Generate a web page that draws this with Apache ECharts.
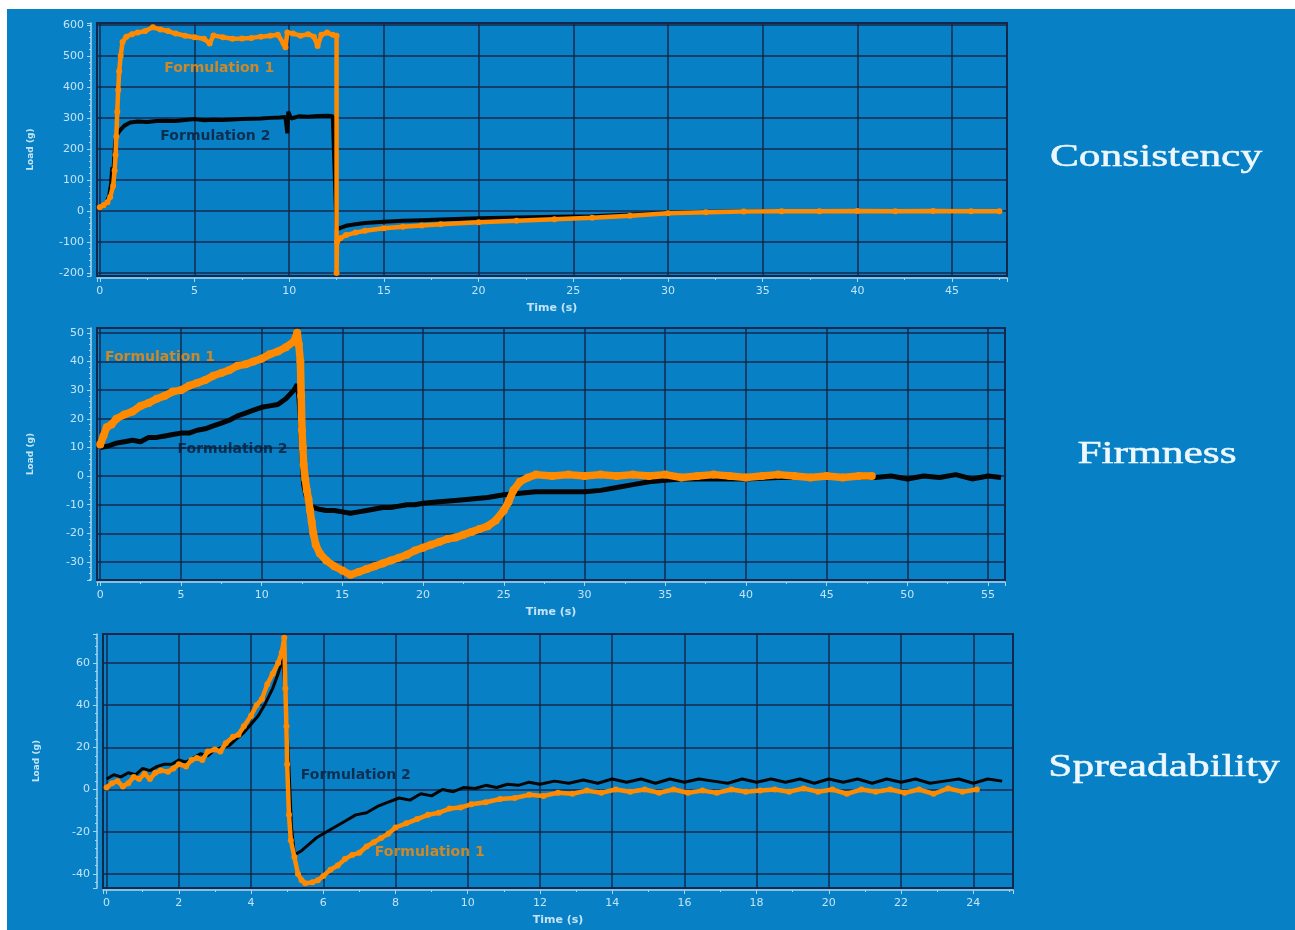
<!DOCTYPE html>
<html><head><meta charset="utf-8">
<script src="https://cdn.jsdelivr.net/npm/echarts@6/dist/echarts.min.js"></script>
<style>
html,body{margin:0;padding:0;background:#fff;}
#wrap{position:relative;width:1295px;height:930px;overflow:hidden;background:#fff;}
#blue{position:absolute;left:7px;top:9px;right:0;bottom:0;background:#0880c6;}
#chart{position:absolute;left:0;top:0;width:1295px;height:930px;}
</style></head><body>
<div id="wrap"><div id="blue"></div><div id="chart"></div></div>
<script>
// ---------- DATA (time s, load g) ----------
const panelTitles = ['Consistency', 'Firmness', 'Spreadability'];
const seriesNames = ['Formulation 1', 'Formulation 2'];

const consF1 = [[0,12],[0.2,18],[0.4,28],[0.55,45],[0.7,80],[0.78,130],[0.83,180],[0.87,240],[0.92,320],[0.97,390],[1.02,450],[1.1,500],[1.2,545],[1.4,562],[1.7,570],[2.0,575],[2.4,580],[2.8,592],[3.2,585],[3.6,580],[4.0,572],[4.5,565],[5.0,560],[5.5,555],[5.8,540],[6.0,566],[6.5,560],[7.0,555],[7.5,556],[8.0,558],[8.5,562],[9.0,565],[9.4,568],[9.7,540],[9.8,528],[9.9,575],[10.2,572],[10.6,565],[11.0,570],[11.3,562],[11.5,532],[11.7,568],[12.0,575],[12.3,568],[12.5,565],[12.5,-200],[12.52,-100],[12.7,-88],[13,-78],[13.5,-70],[14,-64],[15,-56],[16,-51],[17,-47],[18,-43],[20,-37],[22,-32],[24,-27],[26,-22],[28,-16],[30,-8],[32,-4],[34,-2],[36,-1],[38,-1],[40,0],[42,-1],[44,0],[46,-1],[47.5,-1]];
const consF2 = [[0,10],[0.3,20],[0.5,50],[0.6,90],[0.65,140],[0.7,120],[0.75,160],[0.8,210],[0.85,235],[0.95,250],[1.1,262],[1.3,275],[1.6,285],[2.0,288],[2.5,287],[3.0,290],[3.5,291],[4.0,290],[4.5,293],[5.0,296],[5.5,292],[6.0,294],[6.5,293],[7.0,295],[7.5,296],[8.0,297],[8.5,298],[9.0,300],[9.5,301],[9.8,303],[9.9,250],[9.95,320],[10.1,298],[10.5,305],[11.0,304],[11.5,306],[12.0,307],[12.3,305],[12.5,-60],[12.7,-55],[13,-48],[13.5,-43],[14,-39],[15,-35],[16,-32],[17,-30],[18,-28],[20,-24],[22,-21],[24,-19],[26,-17],[28,-12],[30,-6],[32,-3],[34,-1],[36,0],[38,0],[40,0],[42,0],[44,0],[46,0],[47.3,0]];

const firmF1 = [[0,11],[0.2,14],[0.4,17],[0.7,18],[1,20],[1.5,21.5],[2,22.5],[2.5,24.5],[3,25.5],[3.5,27],[4,28],[4.5,29.5],[5,30],[5.5,31.5],[6,32.5],[6.5,33.5],[7,35],[7.5,36],[8,37],[8.5,38.5],[9,39],[9.5,40],[10,41],[10.5,42.5],[11,43.5],[11.5,45],[12,47],[12.2,50],[12.3,46],[12.4,40],[12.45,28],[12.5,16],[12.55,10],[12.6,4],[12.7,-1],[12.8,-5],[12.9,-8],[13.0,-12],[13.1,-16],[13.2,-20],[13.35,-24],[13.6,-27],[14,-29.5],[14.5,-31.5],[15,-33],[15.5,-34.5],[16,-33.5],[16.5,-32.5],[17,-31.5],[17.5,-30.5],[18,-29.5],[18.5,-28.5],[19,-27.5],[19.5,-26],[20,-25],[20.5,-24],[21,-23],[21.5,-22],[22,-21.5],[22.5,-20.5],[23,-19.5],[23.5,-18.5],[24,-17.5],[24.5,-15.5],[25,-12],[25.3,-9],[25.6,-5],[26,-2],[26.5,-0.5],[27,0.5],[28,0],[29,0.5],[30,0],[31,0.5],[32,0],[33,0.5],[34,0],[35,0.5],[36,-0.5],[37,0],[38,0.5],[39,0],[40,-0.5],[41,0],[42,0.5],[43,0],[44,-0.5],[45,0],[46,-0.5],[47,0],[47.8,0]];
const firmF2 = [[0,10],[0.5,10.5],[1,11.5],[1.5,12],[2,12.5],[2.5,12],[3,13.5],[3.5,13.5],[4,14],[4.5,14.5],[5,15],[5.5,15],[6,16],[6.5,16.5],[7,17.5],[7.5,18.5],[8,19.5],[8.5,21],[9,22],[9.5,23],[10,24],[10.5,24.5],[11,25],[11.5,27],[12,30],[12.2,32],[12.3,28],[12.4,20],[12.5,6],[12.6,-3],[12.8,-8],[13,-10.5],[13.5,-11.5],[14,-12],[14.5,-12],[15,-12.5],[15.5,-13],[16,-12.5],[16.5,-12],[17,-11.5],[17.5,-11],[18,-11],[18.5,-10.5],[19,-10],[19.5,-10],[20,-9.5],[21,-9],[22,-8.5],[23,-8],[24,-7.5],[25,-6.5],[26,-6],[27,-5.5],[28,-5.5],[29,-5.5],[30,-5.5],[31,-5],[32,-4],[33,-3],[34,-2],[35,-1.5],[36,-1],[38,-1],[40,-1],[42,-0.5],[44,-0.5],[46,-0.5],[48,-0.5],[49,0],[50,-1],[51,0],[52,-0.5],[53,0.5],[54,-1],[55,0],[55.8,-0.5]];

const spreadF1 = [[0,1],[0.15,3],[0.3,4],[0.45,1.5],[0.6,3],[0.75,6],[0.9,5],[1.05,7.5],[1.2,5],[1.35,8],[1.5,9],[1.7,8.5],[1.85,10],[2.0,12],[2.2,11],[2.35,14],[2.5,15],[2.65,14],[2.8,18],[3.0,19],[3.15,18],[3.3,22],[3.5,25],[3.65,26],[3.8,30],[4.0,35],[4.15,40],[4.3,43],[4.45,50],[4.6,55],[4.75,60],[4.85,65],[4.92,72],[4.95,48],[4.98,30],[5.0,12],[5.05,-12],[5.1,-24],[5.2,-32],[5.3,-40],[5.4,-43],[5.5,-44.5],[5.7,-44],[5.85,-43],[6.0,-41],[6.2,-38],[6.4,-36],[6.6,-33],[6.8,-31],[7.0,-30],[7.2,-27],[7.4,-25],[7.6,-23],[7.8,-21],[8.0,-18],[8.3,-16],[8.6,-14],[8.9,-12],[9.2,-11],[9.5,-9],[9.8,-8.5],[10.1,-7],[10.5,-6],[10.9,-4.5],[11.3,-4],[11.7,-2.5],[12.1,-3],[12.5,-1.5],[12.9,-2],[13.3,-0.5],[13.7,-1.5],[14.1,0],[14.5,-1],[14.9,0],[15.3,-1.5],[15.7,0],[16.1,-1.5],[16.5,-0.5],[16.9,-1.5],[17.3,0],[17.7,-1],[18.1,-0.5],[18.5,0],[18.9,-1],[19.3,0.5],[19.7,-1],[20.1,0],[20.5,-2],[20.9,0],[21.3,-1],[21.7,0],[22.1,-1.5],[22.5,0],[22.9,-2],[23.3,0.5],[23.7,-1],[24.1,0]];
const spreadF2 = [[0,5],[0.2,7],[0.4,6],[0.6,8],[0.8,7],[1.0,10],[1.2,9],[1.4,11],[1.6,12],[1.8,12],[2.0,14],[2.2,13],[2.4,15],[2.6,17],[2.8,16],[3.0,19],[3.2,20],[3.4,21],[3.6,24],[3.8,27],[4.0,31],[4.2,35],[4.4,41],[4.6,48],[4.75,55],[4.88,62],[4.95,45],[5.05,10],[5.12,-18],[5.2,-31],[5.4,-29],[5.6,-26],[5.8,-23],[6.0,-21],[6.3,-18],[6.6,-15],[6.9,-12],[7.2,-11],[7.5,-8],[7.8,-6],[8.1,-4],[8.4,-5],[8.7,-2],[9.0,-3],[9.3,0],[9.6,-1],[9.9,1],[10.2,0.5],[10.5,2],[10.8,1],[11.1,2.5],[11.4,2],[11.7,3.5],[12.0,2.5],[12.4,4],[12.8,3],[13.2,4.5],[13.6,3],[14.0,5],[14.4,3.5],[14.8,5],[15.2,3],[15.6,5],[16.0,3.5],[16.4,5],[16.8,4],[17.2,3],[17.6,5],[18.0,3.5],[18.4,5],[18.8,3.5],[19.2,5],[19.6,3],[20.0,5],[20.4,3.5],[20.8,5],[21.2,3],[21.6,5],[22.0,3.5],[22.4,5],[22.8,3],[23.2,4],[23.6,5],[24.0,3],[24.4,5],[24.8,4]];

// annotation anchors in data units: [time, load]
const notesF1 = [[6.3,461],[3.7,41.3],[8.95,-30]];
const notesF2 = [[6.1,239],[8.2,9.4],[6.9,6.7]];

// axis extents
const xMins = [-0.15,-0.2,-0.1], xMaxs = [47.9,56.05,25.1];
const yMins = [-210,-36.3,-46.7], yMaxs = [606,51.7,73.8];

// ---------- CHART ----------
const ORANGE = '#ff8a00', BLACK = '#050505';
const AX = '#a8d6ef', LBL = '#c4e4f6', GRIDC = '#14284c';
const grids = [
  {left:97, right:288, top:23, bottom:654},
  {left:97, right:290, top:328, bottom:350},
  {left:103, right:282, top:634, bottom:42}
];
const xSplit = [10,11,12], ySplit = [8,9,6];
const f1Data = [consF1, firmF1, spreadF1];
const f2Data = [consF2, firmF2, spreadF2];
const f1Width = [4.5, 7.5, 4.5], f2Width = [4, 5, 3];
const f1Sym = [6, 8, 6];
const titleY = [158, 455, 768], titleX = [1156, 1157, 1164];

const xAxis = [], yAxis = [], series = [];
for (let i = 0; i < 3; i++) {
  grids[i].show = true;
  grids[i].borderColor = GRIDC;
  grids[i].borderWidth = 2;
  grids[i].backgroundColor = 'transparent';
  xAxis.push({
    gridIndex:i, type:'value', min:xMins[i], max:xMaxs[i], splitNumber:xSplit[i],
    offset:2,
    axisLine:{show:true, onZero:false, lineStyle:{color:AX, width:1.5}},
    axisTick:{show:true, length:4, lineStyle:{color:AX}},
    minorTick:{show:true, splitNumber:2, length:2, lineStyle:{color:AX}},
    splitLine:{show:true, lineStyle:{color:GRIDC, width:1.5}},
    axisLabel:{color:LBL, fontSize:11, fontFamily:'DejaVu Sans', margin:8, showMinLabel:false, showMaxLabel:false},
    name:'Time (s)', nameLocation:'middle', nameGap:25,
    nameTextStyle:{color:LBL, fontWeight:'bold', fontSize:11, fontFamily:'DejaVu Sans'}
  });
  yAxis.push({
    gridIndex:i, type:'value', min:yMins[i], max:yMaxs[i], splitNumber:ySplit[i],
    offset:6,
    axisLine:{show:true, onZero:false, lineStyle:{color:AX, width:1.5}},
    axisTick:{show:true, length:4, lineStyle:{color:AX}},
    minorTick:{show:true, splitNumber:5, length:2, lineStyle:{color:AX}},
    splitLine:{show:true, lineStyle:{color:GRIDC, width:1.5}},
    axisLabel:{color:LBL, fontSize:11, fontFamily:'DejaVu Sans', margin:7, showMinLabel:false, showMaxLabel:false},
    name:'Load (g)', nameLocation:'middle', nameGap:56, nameRotate:90,
    nameTextStyle:{color:LBL, fontWeight:'bold', fontSize:9, fontFamily:'DejaVu Sans'}
  });
  series.push({
    type:'line', name:seriesNames[1], xAxisIndex:i, yAxisIndex:i, data:f2Data[i],
    symbol:'none', lineStyle:{color:BLACK, width:f2Width[i]}, z:3
  });
  series.push({
    type:'line', name:seriesNames[0], xAxisIndex:i, yAxisIndex:i, data:f1Data[i],
    symbol:'circle', symbolSize:f1Sym[i], showSymbol:true,
    itemStyle:{color:ORANGE}, lineStyle:{color:ORANGE, width:f1Width[i]}, z:4
  });
  series.push({
    type:'scatter', xAxisIndex:i, yAxisIndex:i, symbolSize:1, z:6, silent:true,
    itemStyle:{color:'transparent'},
    data:[
      {value:notesF1[i], label:{show:true, position:'inside', formatter:seriesNames[0], color:ORANGE,
        fontWeight:'bold', fontSize:14, fontFamily:'DejaVu Sans'}},
      {value:notesF2[i], label:{show:true, position:'inside', formatter:seriesNames[1], color:'#0b1a33',
        fontWeight:'bold', fontSize:14, fontFamily:'DejaVu Sans'}}
    ]
  });
}

const graphic = panelTitles.map((t, i) => ({
  type:'text', x:titleX[i], y:titleY[i], scaleX:1.4, scaleY:1.02, z:10,
  style:{text:t, fill:'#eef7fd', font:'31px "Liberation Serif"', textAlign:'center', textVerticalAlign:'middle',
    stroke:'#eef7fd', lineWidth:0.5}
}));

const chart = echarts.init(document.getElementById('chart'), null, {renderer:'canvas'});
chart.setOption({
  animation:false,
  backgroundColor:'transparent',
  grid:grids, xAxis, yAxis, series, graphic
});
</script>
</body></html>
